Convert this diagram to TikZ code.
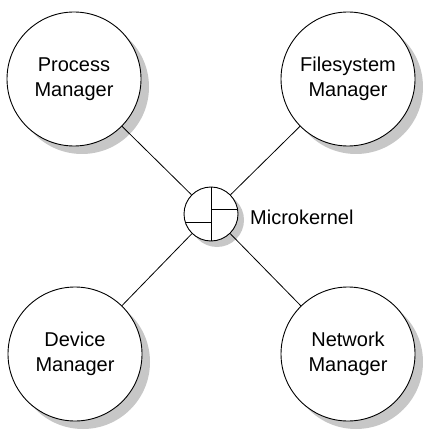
\documentclass[tikz,border=0pt]{standalone}
\usepackage{fontspec}
\setmainfont{Liberation Sans}
\usepackage{tikz}
\usetikzlibrary{positioning,shadows}

\begin{document}
\begin{tikzpicture}[x=1pt,y=-1pt,font=\fontsize{20}{25}\selectfont,
  mgr/.style={draw,circle,line width=0.9pt,fill=white,minimum size=134pt,inner sep=0pt,align=center,
    drop shadow={shadow xshift=8pt,shadow yshift=-8pt,fill=black!22,opacity=1}},
  kern/.style={draw,circle,line width=0.9pt,fill=white,minimum size=54pt,inner sep=0pt,
    drop shadow={shadow xshift=6pt,shadow yshift=-6pt,fill=black!22,opacity=1}}]
\useasboundingbox (0,0) rectangle (422,430);
\node[kern] (mk) at (211,214) {};
\node[mgr] (pm) at (74,79) {Process\\Manager};
\node[mgr] (fm) at (348,79) {Filesystem\\Manager};
\node[mgr] (dm) at (75,354) {Device\\Manager};
\node[mgr] (nm) at (348,354) {Network\\Manager};
\node[anchor=base west,inner sep=0pt] (mklabel) at (250,224) {Microkernel};
\draw[line width=0.8pt] (pm)--(mk) (fm)--(mk) (dm)--(mk) (nm)--(mk);
% cross inside the kernel
\draw[line width=0.9pt] (mk.north)--(mk.south);
\draw[line width=0.9pt] (mk.10)--(mk.10 -| mk.north);
\draw[line width=0.9pt] (mk.197)--(mk.197 -| mk.north);
\end{tikzpicture}
\end{document}
